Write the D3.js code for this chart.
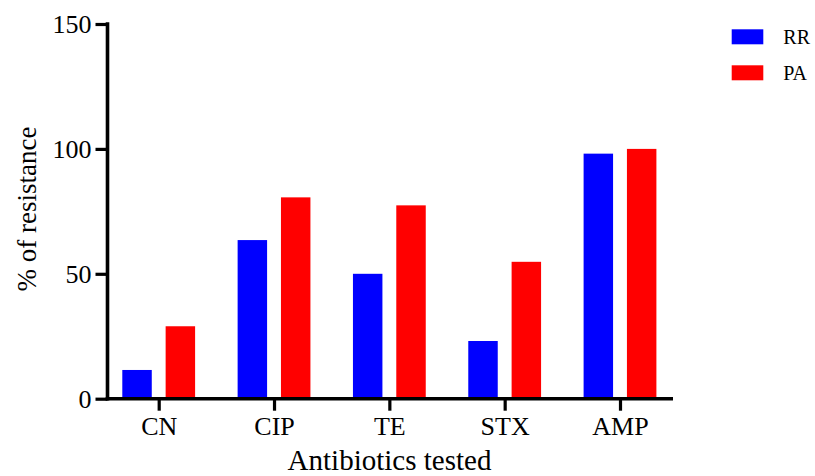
<!DOCTYPE html>
<html>
<head>
<meta charset="utf-8">
<script src="https://cdn.jsdelivr.net/npm/d3@7"></script>
<style>
  html, body { margin: 0; padding: 0; background: #fff; }
  svg { display: block; }
  text { font-family: "Liberation Serif", "Times New Roman", Times, serif; fill: #000; }
</style>
</head>
<body>
<script>
const categories = ["CN", "CIP", "TE", "STX", "AMP"];
const seriesNames = ["RR", "PA"];
const rrValues = [11.5, 63.5, 50.0, 23.1, 98.1];
const paValues = [29.0, 80.6, 77.4, 54.8, 100.0];
const yTicks = [0, 50, 100, 150];
const colors = { RR: "#0000ff", PA: "#ff0000" };
const xTitle = "Antibiotics tested";
const yTitle = "% of resistance";

const W = 815, H = 476;
const svg = d3.select("body").append("svg").attr("width", W).attr("height", H);

const axisX0 = 107.5, axisX1 = 673, axisY = 398.7;
const y = d3.scaleLinear().domain([0, 150]).range([398.7, 24]);
const x = d3.scalePoint().domain(categories).range([158.7, 620]);
const xs = d3.scaleBand().domain(seriesNames).range([-36.4, 36.4]).paddingInner(0.32).paddingOuter(0);

const data = categories.map((c, i) => ({ cat: c, RR: rrValues[i], PA: paValues[i] }));

// bars
const g = svg.append("g");
g.selectAll("g.grp").data(data).join("g")
  .attr("class", "grp")
  .attr("transform", d => `translate(${x(d.cat)},0)`)
  .selectAll("rect").data(d => seriesNames.map(s => ({ s, v: d[s] }))).join("rect")
  .attr("x", d => xs(d.s))
  .attr("width", xs.bandwidth())
  .attr("y", d => y(d.v))
  .attr("height", d => y(0) - y(d.v))
  .attr("fill", d => colors[d.s]);

// y axis
const yAxis = svg.append("g").attr("transform", `translate(${axisX0},0)`)
  .call(d3.axisLeft(y).tickValues(yTicks).tickSize(12).tickSizeOuter(0).tickPadding(4));
yAxis.select(".domain").remove();
yAxis.selectAll(".tick line").attr("stroke", "#000").attr("stroke-width", 3.2);
yAxis.selectAll(".tick text").attr("font-size", 26).attr("font-family", "Liberation Serif").attr("fill", "#000");

// x axis
const xAxis = svg.append("g").attr("transform", `translate(0,${axisY})`)
  .call(d3.axisBottom(x).tickSize(12).tickSizeOuter(0));
xAxis.select(".domain").remove();
xAxis.selectAll(".tick line").attr("stroke", "#000").attr("stroke-width", 3.2);
xAxis.selectAll(".tick text").attr("font-size", 26).attr("font-family", "Liberation Serif")
  .attr("fill", "#000").attr("y", 36.5).attr("dy", 0);

// axis lines
svg.append("line").attr("x1", axisX0).attr("x2", axisX0).attr("y1", 22.3).attr("y2", axisY + 1.8)
  .attr("stroke", "#000").attr("stroke-width", 3.6);
svg.append("line").attr("x1", axisX0 - 1.8).attr("x2", axisX1).attr("y1", axisY).attr("y2", axisY)
  .attr("stroke", "#000").attr("stroke-width", 3.6);

// titles
svg.append("text").attr("x", 389.5).attr("y", 469.5).attr("text-anchor", "middle")
  .attr("font-size", 29).text(xTitle);
svg.append("text").attr("transform", "translate(35.5,209) rotate(-90)").attr("text-anchor", "middle")
  .attr("font-size", 27).text(yTitle);

// legend
const leg = svg.append("g").attr("transform", "translate(731.7,29.3)");
seriesNames.forEach((s, i) => {
  const row = leg.append("g").attr("transform", `translate(0,${i * 36})`);
  row.append("rect").attr("width", 31.6).attr("height", 15).attr("fill", colors[s]);
  row.append("text").attr("x", 51.6).attr("y", 14.5).attr("font-size", 20).text(s);
});
</script>
</body>
</html>
